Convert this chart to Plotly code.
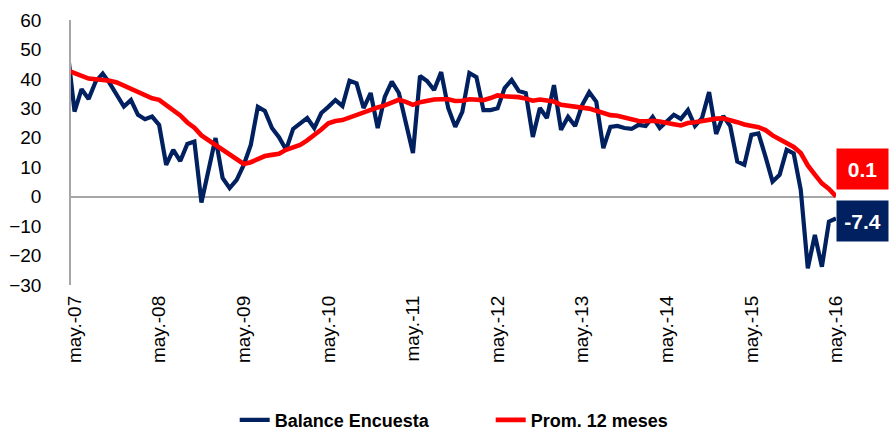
import plotly.graph_objects as go

# Month categories: first one (abr.-07) lies just left of the visible axis range
mes_abbr = ["ene.", "feb.", "mar.", "abr.", "may.", "jun.", "jul.", "ago.", "sep.", "oct.", "nov.", "dic."]
months = []
y_, m_ = 2007, 4
for _ in range(110):
    months.append(f"{mes_abbr[m_ - 1]}-{y_ % 100:02d}")
    m_ += 1
    if m_ > 12:
        m_, y_ = 1, y_ + 1

balance_encuesta = [
    50.0,
    28.9, 36.5, 33.2, 39.1, 41.8, 38.5, 34.5, 30.6, 32.8, 27.8, 26.3, 27.2,
    24.4, 10.8, 15.9, 12.1, 17.9, 18.7, -2.0, 9.0, 19.9, 6.4, 2.9, 5.7,
    10.8, 17.6, 30.5, 29.1, 23.3, 20.2, 15.9, 23.0, 25.0, 26.7, 23.3, 28.4,
    30.5, 32.8, 30.8, 39.4, 38.5, 30.1, 35.2, 23.3, 33.9, 39.1, 35.2, 25.0,
    14.8, 41.0, 39.3, 36.2, 42.3, 30.1, 23.7, 28.8, 42.0, 40.6, 29.4, 29.4,
    30.0, 36.9, 39.6, 35.9, 35.2, 20.3, 30.1, 26.7, 37.9, 22.7, 27.1, 24.0,
    31.1, 35.5, 32.2, 16.5, 23.7, 24.0, 23.3, 23.0, 24.4, 24.0, 27.1, 23.3,
    25.4, 27.8, 26.4, 29.4, 24.0, 26.7, 35.5, 21.3, 27.4, 24.0, 11.9, 10.8,
    21.0, 21.5, 13.6, 5.1, 7.4, 15.9, 14.7, 2.3, -24.3, -13.0, -23.8, -8.5,
    -7.4,
]

prom_12_meses = [
    42.9,
    42.1, 41.1, 40.1, 39.9, 39.7, 39.4, 38.8, 37.8, 36.8, 35.7, 34.5, 33.4,
    32.9, 31.0, 29.5, 27.6, 25.2, 23.4, 20.8, 19.2, 17.5, 15.7, 14.0, 12.5,
    11.1, 11.7, 12.6, 13.8, 14.2, 14.6, 15.9, 16.9, 17.6, 19.1, 20.8, 22.8,
    24.9, 25.7, 26.0, 26.9, 27.9, 28.5, 29.8, 30.3, 31.0, 32.0, 32.9, 32.2,
    31.2, 32.1, 32.7, 33.0, 33.1, 33.1, 32.5, 32.6, 33.1, 33.0, 32.8, 33.5,
    34.4, 34.1, 34.0, 33.8, 33.3, 32.6, 33.0, 32.8, 32.3, 31.2, 30.9, 30.6,
    30.3, 29.9, 29.2, 28.3, 27.7, 27.5, 27.0, 26.6, 25.7, 25.6, 25.8, 25.5,
    25.2, 24.6, 24.2, 25.0, 25.3, 25.7, 26.3, 26.5, 26.6, 26.1, 25.3, 24.5,
    24.1, 23.6, 22.6, 20.8, 19.5, 18.4, 16.9, 14.8, 10.6, 7.5, 4.5, 2.6,
    0.1,
]

tick_labels = [m for m in months[1:] if m.startswith("may.")]
y_ticks = [60, 50, 40, 30, 20, 10, 0, -10, -20, -30]

NAVY = "#002060"
RED = "#FF0000"
FONT = "Liberation Sans, Arial, sans-serif"

fig = go.Figure()
fig.add_trace(go.Scatter(
    x=months, y=balance_encuesta, mode="lines", name="Balance Encuesta",
    line=dict(color=NAVY, width=4.2),
))
fig.add_trace(go.Scatter(
    x=months, y=prom_12_meses, mode="lines", name="Prom. 12 meses",
    line=dict(color=RED, width=4.6),
))

fig.update_layout(
    width=890, height=431,
    margin=dict(l=71, r=54, t=20, b=146, autoexpand=False),
    paper_bgcolor="white", plot_bgcolor="white",
    font=dict(family=FONT, size=19, color="#000000"),
    showlegend=True,
    legend=dict(
        orientation="h", x=0.214, xanchor="left", y=-0.51, yanchor="middle",
        font=dict(family=FONT, size=18, color="#000000", weight="bold"),
        itemwidth=30, tracegroupgap=0, entrywidth=211, entrywidthmode="pixels",
    ),
    xaxis=dict(
        type="category", categoryorder="array", categoryarray=months,
        range=[0.5, len(months) - 1], automargin=False,
        tickmode="array", tickvals=tick_labels, ticktext=tick_labels,
        tickangle=-90, showgrid=False, showline=False, zeroline=False,
        ticks="", ticklabelstandoff=6,
        tickfont=dict(family=FONT, size=19, color="#000000"),
    ),
    yaxis=dict(
        range=[-30, 60], tickmode="array", tickvals=y_ticks, automargin=False,
        showgrid=False, showline=True, linecolor="#A6A6A6", linewidth=1.5,
        zeroline=True, zerolinecolor="#A6A6A6", zerolinewidth=1.5,
        ticks="", ticklabelstandoff=24,
        tickfont=dict(family=FONT, size=19, color="#000000"),
    ),
)

fig.add_annotation(
    xref="paper", yref="paper", x=1.0, y=0.438, xanchor="left", yanchor="middle",
    text=f"<b>{prom_12_meses[-1]:.1f}</b>", showarrow=False,
    font=dict(family=FONT, size=21, color="white"),
    bgcolor=RED, width=51, height=40, borderpad=0, align="center", valign="middle",
)
fig.add_annotation(
    xref="paper", yref="paper", x=1.0, y=0.24, xanchor="left", yanchor="middle",
    text=f"<b>{balance_encuesta[-1]:.1f}</b>", showarrow=False,
    font=dict(family=FONT, size=21, color="white"),
    bgcolor=NAVY, width=51, height=40, borderpad=0, align="center", valign="middle",
)

fig.write_html(
    "out.html",
    config={"displayModeBar": False},
    post_script="document.body.style.margin='0';",
)
